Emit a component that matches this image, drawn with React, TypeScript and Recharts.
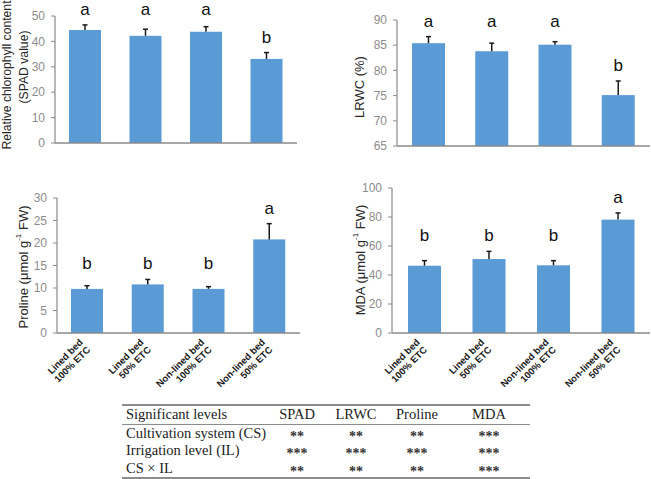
import React from 'react'
import { BarChart, Bar, XAxis, YAxis } from 'recharts'

const TREATMENTS = ['Lined bed 100% ETC', 'Lined bed 50% ETC', 'Non-lined bed 100% ETC', 'Non-lined bed 50% ETC']

const SPAD = [44.5, 42.2, 43.8, 33.1]
const SPAD_SE = [2.0, 2.6, 2.0, 2.5]
const SPAD_LETTERS = ['a', 'a', 'a', 'b']

const LRWC = [85.4, 83.8, 85.1, 75.1]
const LRWC_SE = [1.3, 1.6, 0.6, 2.8]
const LRWC_LETTERS = ['a', 'a', 'a', 'b']

const PROLINE = [9.8, 10.8, 9.8, 20.8]
const PROLINE_SE = [0.7, 1.1, 0.5, 3.5]
const PROLINE_LETTERS = ['b', 'b', 'b', 'a']

const MDA = [46.4, 51.0, 46.7, 78.2]
const MDA_SE = [3.5, 5.3, 3.2, 4.6]
const MDA_LETTERS = ['b', 'b', 'b', 'a']

const SPAD_TICKS = [0, 10, 20, 30, 40, 50]
const LRWC_TICKS = [65, 70, 75, 80, 85, 90]
const PROLINE_TICKS = [0, 5, 10, 15, 20, 25, 30]
const MDA_TICKS = [0, 20, 40, 60, 80, 100]

const TABLE_HEAD = ['Significant levels', 'SPAD', 'LRWC', 'Proline', 'MDA']
const FACTORS = ['Cultivation system (CS)', 'Irrigation level (IL)', 'CS × IL']
const SIGNIFICANCE = [
  ['**', '**', '**', '***'],
  ['***', '***', '***', '***'],
  ['**', '**', '**', '***'],
]

const BLUE = '#5b9bd5'
const AXIS = '#8a8a8a'
const SANS = '"Liberation Sans", Arial, sans-serif'
const SERIF = '"Liberation Serif", "Times New Roman", serif'

type Row = { name: string; v: number; se: number; letter: string; groupTop: number }

function buildRows(values: number[], se: number[], letters: string[]): Row[] {
  return TREATMENTS.map((name, i) => {
    // letters of one group sit at the same height, above the tallest error bar
    const groupTop = Math.max(
      ...values.map((v, j) => (letters[j] === letters[i] ? v + se[j] : -Infinity))
    )
    return { name, v: values[i], se: se[i], letter: letters[i], groupTop }
  })
}

function CategoryTick({ x, y, payload }: any) {
  const m = /^(.*bed) (.*)$/.exec(payload.value) || [payload.value, payload.value, '']
  return (
    <g transform={`translate(${x - 4},${y + 10}) rotate(-45)`}>
      <text textAnchor="end" fontSize={9.5} fontWeight="bold" fontFamily={SANS} fill="#1a1a1a">
        <tspan x={0} y={0}>{m[1]}</tspan>
        <tspan x={0} y={10.5}>{m[2]}</tspan>
      </text>
    </g>
  )
}

type PanelProps = {
  left: number
  top: number
  width: number
  height: number
  x0: number
  x1: number
  y0: number
  y1: number
  rows: Row[]
  ticks: number[]
  barSize: number
  categories: boolean
}

function Panel({ left, top, width, height, x0, x1, y0, y1, rows, ticks, barSize, categories }: PanelProps) {
  const base = ticks[0]
  const domain: [number, number] = [ticks[0], ticks[ticks.length - 1]]

  // bar with its upper error bar and significance letter
  const shape = (p: any) => {
    const { x, y, width: w, height: h, payload } = p
    const ppu = h / (payload.v - base)
    const cx = x + w / 2
    const errY = y - payload.se * ppu
    const letterY = y - (payload.groupTop - payload.v) * ppu - 16
    return (
      <g>
        <rect x={x} y={y} width={w} height={h} fill={BLUE} />
        <line x1={cx} y1={y} x2={cx} y2={errY} stroke="#1a1a1a" strokeWidth={1.5} />
        <line x1={cx - 2.5} y1={errY} x2={cx + 2.5} y2={errY} stroke="#1a1a1a" strokeWidth={1.5} />
        <text x={cx} y={letterY + 6} textAnchor="middle" fontSize={17} fontFamily={SANS} fill="#111">
          {payload.letter}
        </text>
      </g>
    )
  }

  return (
    <div style={{ position: 'absolute', left, top }}>
      <BarChart
        width={width}
        height={height}
        data={rows}
        margin={{ top: y0 - top, right: left + width - x1, left: 0, bottom: 0 }}
        barSize={barSize}
        style={{ overflow: 'visible' }}
      >
        <XAxis
          dataKey="name"
          axisLine={{ stroke: AXIS, strokeWidth: 1.5 }}
          tickLine={false}
          tickSize={0}
          tickMargin={0}
          interval={0}
          height={top + height - y1}
          tick={categories ? <CategoryTick /> : false}
        />
        <YAxis
          width={x0 - left}
          domain={domain}
          ticks={ticks}
          interval={0}
          axisLine={{ stroke: AXIS, strokeWidth: 1.2 }}
          tickLine={{ stroke: AXIS }}
          tickSize={4}
          tickMargin={6}
          tick={{ fill: '#8c8c8c', fontSize: 12, fontFamily: SANS }}
        />
        <Bar dataKey="v" shape={shape} isAnimationActive={false} />
      </BarChart>
    </div>
  )
}

function YTitle({ x, y, size = 13, children }: { x: number; y: number; size?: number; children: React.ReactNode }) {
  return (
    <text
      transform={`translate(${x},${y}) rotate(-90)`}
      textAnchor="middle"
      dominantBaseline="central"
      fontSize={size}
      fontFamily={SANS}
      fill="#262626"
    >
      {children}
    </text>
  )
}

function UnitLabel({ name }: { name: string }) {
  return (
    <>
      {name} (μmol g
      <tspan fontSize={8} dy={-5}>-1</tspan>
      <tspan dy={5}> FW)</tspan>
    </>
  )
}

const cell: React.CSSProperties = { padding: 0, height: 17.5, lineHeight: '17.5px' }

export default function App() {
  return (
    <div style={{ position: 'absolute', left: 0, top: 0, width: 651, height: 479, background: '#fff', overflow: 'hidden' }}>
      <Panel left={0} top={0} width={300} height={150} x0={55} x1={297} y0={16} y1={143}
        rows={buildRows(SPAD, SPAD_SE, SPAD_LETTERS)} ticks={SPAD_TICKS} barSize={32} categories={false} />
      <Panel left={330} top={0} width={321} height={152} x0={397} x1={650} y0={20} y1={146}
        rows={buildRows(LRWC, LRWC_SE, LRWC_LETTERS)} ticks={LRWC_TICKS} barSize={33} categories={false} />
      <Panel left={0} top={180} width={310} height={210} x0={57} x1={300} y0={198} y1={333}
        rows={buildRows(PROLINE, PROLINE_SE, PROLINE_LETTERS)} ticks={PROLINE_TICKS} barSize={32} categories />
      <Panel left={330} top={170} width={321} height={220} x0={392} x1={650} y0={188} y1={333}
        rows={buildRows(MDA, MDA_SE, MDA_LETTERS)} ticks={MDA_TICKS} barSize={33} categories />

      <svg width={651} height={400} style={{ position: 'absolute', left: 0, top: 0, pointerEvents: 'none' }}>
        <YTitle x={7} y={75} size={12.2}>Relative chlorophyll content</YTitle>
        <YTitle x={24} y={67} size={12.2}>(SPAD value)</YTitle>
        <YTitle x={359} y={87}>LRWC (%)</YTitle>
        <YTitle x={23} y={267}><UnitLabel name="Proline" /></YTitle>
        <YTitle x={360} y={260}><UnitLabel name="MDA" /></YTitle>
      </svg>

      <table
        style={{
          position: 'absolute', left: 122, top: 404, width: 408, borderCollapse: 'collapse',
          fontFamily: SERIF, fontSize: 14.5, color: '#222',
          borderTop: '2.5px solid #8c8c8c', borderBottom: '2.5px solid #8c8c8c',
        }}
      >
        <colgroup>
          <col style={{ width: 146 }} />
          <col style={{ width: 58 }} />
          <col style={{ width: 60 }} />
          <col style={{ width: 62 }} />
          <col style={{ width: 82 }} />
        </colgroup>
        <thead>
          <tr style={{ borderBottom: '1.5px solid #8c8c8c' }}>
            {TABLE_HEAD.map((h, i) => (
              <th key={h} style={{ ...cell, fontWeight: 'normal', textAlign: i === 0 ? 'left' : 'center', paddingLeft: i === 0 ? 4 : 0 }}>
                {h}
              </th>
            ))}
          </tr>
        </thead>
        <tbody>
          {FACTORS.map((f, r) => (
            <tr key={f}>
              <td style={{ ...cell, paddingLeft: 4 }}>{f}</td>
              {SIGNIFICANCE[r].map((s, c) => (
                <td key={c} style={{ ...cell, textAlign: 'center', fontWeight: 'bold', fontSize: 14, color: '#333' }}>
                  <span style={{ position: 'relative', top: 3 }}>{s}</span>
                </td>
              ))}
            </tr>
          ))}
        </tbody>
      </table>
    </div>
  )
}
